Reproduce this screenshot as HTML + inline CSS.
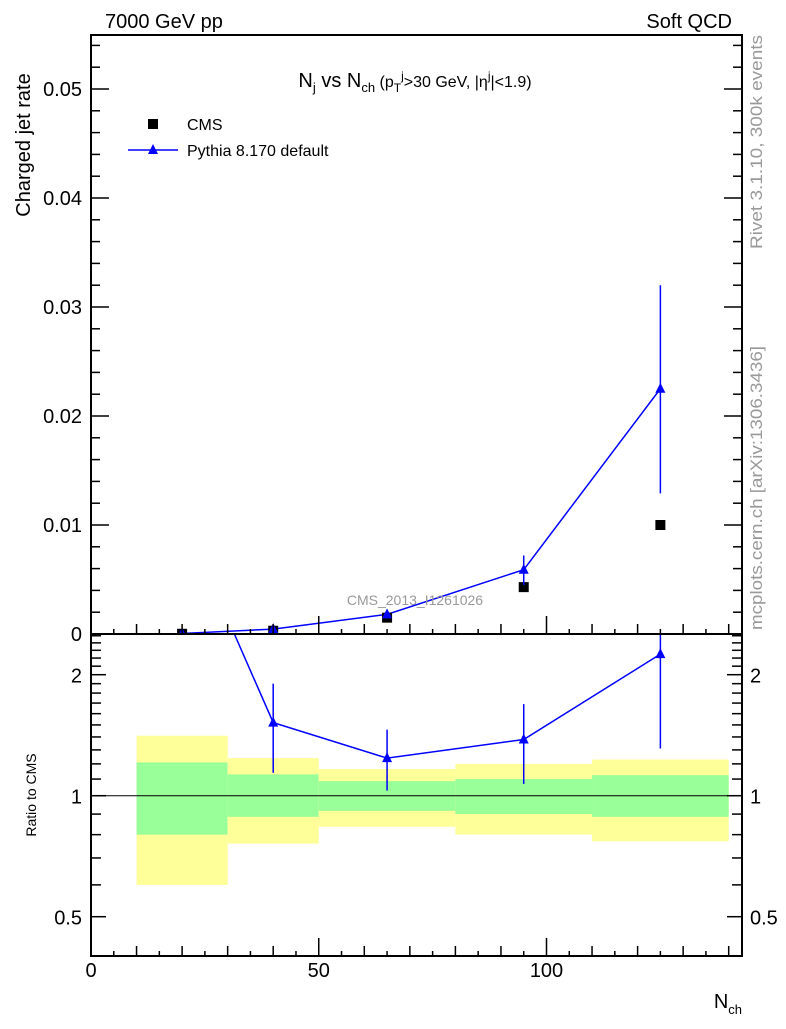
<!DOCTYPE html>
<html><head><meta charset="utf-8"><style>
body{margin:0;background:#fff;}
svg{font-family:"Liberation Sans",sans-serif;}
</style></head><body>
<svg id="c" width="786" height="1024" xmlns="http://www.w3.org/2000/svg">
<defs><clipPath id="rc"><rect x="91" y="634" width="651" height="322"/></clipPath>
<clipPath id="mc"><rect x="91" y="35" width="651" height="599"/></clipPath></defs>
<g id="bands" clip-path="url(#rc)"></g>
<g id="main" clip-path="url(#mc)"></g>
<g id="ratio" clip-path="url(#rc)"></g>
<g id="axes"></g>
<text x="105" y="28" font-size="20">7000 GeV pp</text>
<text x="732" y="28" font-size="20" text-anchor="end">Soft QCD</text>
<text x="415" y="87" font-size="20" text-anchor="middle">N<tspan font-size="13" dy="5">j</tspan><tspan dy="-5"> vs N</tspan><tspan font-size="13" dy="5">ch</tspan><tspan dy="-5" font-size="16"> (p</tspan><tspan font-size="12" dy="5">T</tspan><tspan font-size="12" dy="-12">j</tspan><tspan font-size="16" dy="7">&gt;30 GeV, |η</tspan><tspan font-size="12" dy="-7">j</tspan><tspan font-size="16" dy="7">|&lt;1.9)</tspan></text>
<rect x="148" y="119" width="10" height="10" fill="#000"/>
<text x="187" y="130" font-size="16">CMS</text>
<line x1="128" y1="150" x2="178" y2="150" stroke="#00f" stroke-width="1.5"/>
<polygon points="153,144 158,154 148,154" fill="#00f"/>
<text x="187" y="156" font-size="16">Pythia 8.170 default</text>
<text x="415" y="605" font-size="14" fill="#999" text-anchor="middle">CMS_2013_I1261026</text>
<text transform="translate(30,145) rotate(-90)" font-size="20" text-anchor="middle">Charged jet rate</text>
<text transform="translate(36,795) rotate(-90)" font-size="14" text-anchor="middle">Ratio to CMS</text>
<text x="742" y="1008" font-size="20" text-anchor="end">N<tspan font-size="13" dy="6">ch</tspan></text>
<text transform="translate(762,142) rotate(-90)" font-size="17" fill="#999" text-anchor="middle" textLength="214" lengthAdjust="spacingAndGlyphs">Rivet 3.1.10,  300k events</text>
<text transform="translate(762,488) rotate(-90)" font-size="17" fill="#999" text-anchor="middle" textLength="284" lengthAdjust="spacingAndGlyphs">mcplots.cern.ch [arXiv:1306.3436]</text>
</svg>
<script>
const xCats=[20,40,65,95,125];
const cmsVals=[0.00002,0.0003,0.0015,0.0043,0.0100];
const pyVals=[0.00005,0.00045,0.0018,0.0059,0.0225];
const pyLo=[0.00004,0.0004,0.0016,0.0045,0.0129];
const pyHi=[0.00006,0.0005,0.002,0.0072,0.032];
const ratioVals=[5,1.52,1.24,1.38,2.25];
const ratioLo=[4,1.14,1.03,1.07,1.31];
const ratioHi=[6,1.9,1.46,1.69,3.0];
const binEdges=[[10,30],[30,50],[50,80],[80,110],[110,140]];
const yelLo=[0.6,0.76,0.837,0.80,0.77];
const yelHi=[1.41,1.24,1.165,1.2,1.23];
const grnLo=[0.80,0.886,0.917,0.9,0.886];
const grnHi=[1.21,1.13,1.087,1.1,1.125];
const mainTicks=[0,0.01,0.02,0.03,0.04,0.05];
const mainTickLabels=["0","0.01","0.02","0.03","0.04","0.05"];
const xTicks=[0,50,100];
const ratioTicks=[0.5,1,2];

const X=v=>91+v*4.555;
const Y=v=>634-v*10900;
const R=v=>795.7-Math.log2(v)*121;
const NS="http://www.w3.org/2000/svg";
function mk(p,tag,at){const e=document.createElementNS(NS,tag);for(const k in at)e.setAttribute(k,at[k]);document.getElementById(p).appendChild(e);return e;}

binEdges.forEach((b,i)=>{
 let e=mk('bands','rect',{x:X(b[0]),y:R(yelHi[i]),width:X(b[1])-X(b[0]),height:R(yelLo[i])-R(yelHi[i]),fill:'#ffff99'});
 
 
 e=mk('bands','rect',{x:X(b[0]),y:R(grnHi[i]),width:X(b[1])-X(b[0]),height:R(grnLo[i])-R(grnHi[i]),fill:'#99ff99'});
 
 
});
let e=mk('bands','line',{x1:91,x2:742,y1:R(1),y2:R(1),stroke:'#000','stroke-width':1});



e=mk('main','polyline',{points:xCats.map((x,i)=>X(x)+','+Y(pyVals[i])).join(' '),fill:'none',stroke:'#00f','stroke-width':1.5});


xCats.forEach((x,i)=>{
 let s=mk('main','rect',{x:X(x)-5,y:Y(cmsVals[i])-5,width:10,height:10,fill:'#000'});
 
 
 let l=mk('main','line',{x1:X(x),x2:X(x),y1:Y(pyLo[i]),y2:Y(pyHi[i]),stroke:'#00f','stroke-width':1.5});
 
 
 let t=mk('main','polygon',{points:`${X(x)},${Y(pyVals[i])-6} ${X(x)+5},${Y(pyVals[i])+4} ${X(x)-5},${Y(pyVals[i])+4}`,fill:'#00f'});
 
 
});
e=mk('ratio','polyline',{points:xCats.map((x,i)=>X(x)+','+R(ratioVals[i])).join(' '),fill:'none',stroke:'#00f','stroke-width':1.5});


xCats.forEach((x,i)=>{
 let l=mk('ratio','line',{x1:X(x),x2:X(x),y1:R(ratioLo[i]),y2:R(ratioHi[i]),stroke:'#00f','stroke-width':1.5});
 
 
 let t=mk('ratio','polygon',{points:`${X(x)},${R(ratioVals[i])-6} ${X(x)+5},${R(ratioVals[i])+4} ${X(x)-5},${R(ratioVals[i])+4}`,fill:'#00f'});
 
 
});
const A='axes';
[[91,35,651,599],[91,634,651,322]].forEach((r,i)=>{
 let f=mk(A,'rect',{x:r[0],y:r[1],width:r[2],height:r[3],fill:'none',stroke:'#000','stroke-width':2});
 
 
});
function tick(x1,y1,x2,y2){mk(A,'line',{x1,y1,x2,y2,stroke:'#000','stroke-width':1.5});}
for(let v=0;v<=143;v+=5){const big=v%50==0,len=big?18:(v%10==0?10:5);const x=X(v);
 tick(x,634,x,634-len);tick(x,956,x,956-len);}
xTicks.forEach(v=>{let t=mk(A,'text',{x:X(v),y:977,'font-size':20,'text-anchor':'middle'});t.textContent=v;
 });
for(let k=0;k<=27;k++){const v=k*0.002;const y=Y(v);if(y<35)break;const big=k%5==0,len=big?18:9;
 tick(91,y,91+len,y);tick(742,y,742-len,y);}
mainTicks.forEach((v,i)=>{let t=mk(A,'text',{x:82,y:Y(v)+7,'font-size':20,'text-anchor':'end'});t.textContent=mainTickLabels[i];
 });
[0.4,0.5,0.6,0.7,0.8,0.9,1,1.1,1.2,1.3,1.4,1.5,1.6,1.7,1.8,1.9,2,2.1,2.2,2.3,2.4,2.5].forEach(v=>{const y=R(v);if(y<635||y>955)return;
 const big=ratioTicks.includes(v),len=big?15:10;tick(91,y,91+len,y);tick(742,y,742-len,y);});
ratioTicks.forEach(v=>{[[82,'end'],[750,'start']].forEach(p=>{let t=mk(A,'text',{x:p[0],y:R(v)+8,'font-size':20,'text-anchor':p[1]});t.textContent=v;
 });});
</script>
</body></html>
